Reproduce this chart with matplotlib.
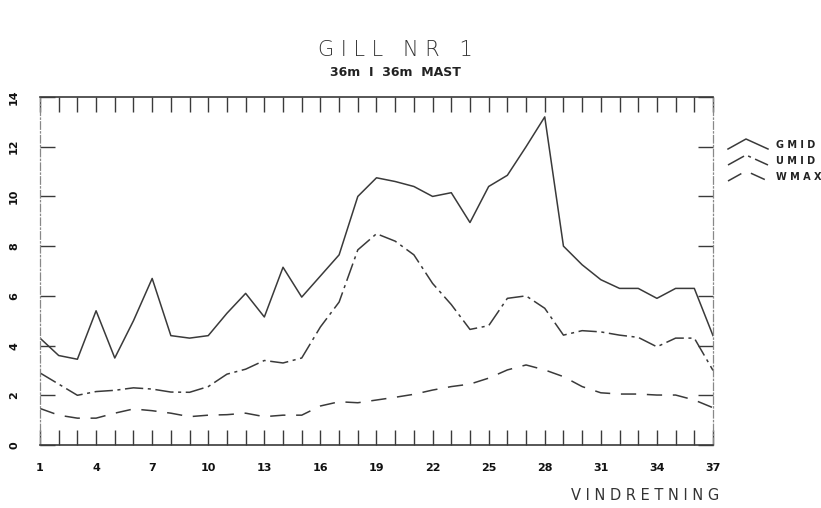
import numpy as np
import matplotlib
matplotlib.use("Agg")
import matplotlib.pyplot as plt
from matplotlib.lines import Line2D

# DATOS
retning = list(range(1, 38))
gmid = [4.3, 3.6, 3.45, 5.4, 3.5, 5.0, 6.7, 4.4, 4.3, 4.4, 5.3, 6.1, 5.15, 7.15, 5.95,
        6.8, 7.65, 10.0, 10.75, 10.6, 10.4, 10.0, 10.15, 8.95, 10.4, 10.85, 12.0, 13.2,
        8.0, 7.25, 6.65, 6.3, 6.3, 5.9, 6.3, 6.3, 4.4]
umid = [2.9, 2.45, 2.0, 2.15, 2.2, 2.3, 2.25, 2.13, 2.12, 2.35, 2.85, 3.05, 3.4, 3.3, 3.5,
        4.75, 5.75, 7.85, 8.5, 8.2, 7.65, 6.5, 5.65, 4.65, 4.8, 5.9, 6.0, 5.5,
        4.42, 4.6, 4.55, 4.42, 4.33, 3.95, 4.3, 4.3, 3.0]
wmax = [1.47, 1.2, 1.08, 1.08, 1.28, 1.45, 1.38, 1.28, 1.14, 1.2, 1.22, 1.28, 1.14, 1.2, 1.2,
        1.57, 1.74, 1.7, 1.81, 1.92, 2.04, 2.21, 2.35, 2.45, 2.69, 3.02, 3.22, 3.02,
        2.75, 2.35, 2.1, 2.05, 2.05, 2.01, 2.01, 1.81, 1.5]
navn = ["GMID", "UMID", "WMAX"]
x_etiketter = list(range(1, 38, 3))
y_etiketter = list(range(0, 15, 2))

farge = "#3a3a3a"
stiler = ["-", (0, (12, 3, 2, 3)), (0, (10, 7))]

fig = plt.figure(figsize=(8.21, 5.08), dpi=100)
ax = fig.add_axes([40 / 821, 1 - 445 / 508, 673 / 821, 348 / 508])

for serie, ls in zip([gmid, umid, wmax], stiler):
    ax.plot(retning, serie, color=farge, linewidth=1.1, linestyle=ls)

ax.set_xlim(1, 37)
ax.set_ylim(0, 14)

# ticks
ax.set_xticks(retning, minor=True)
ax.set_xticks(x_etiketter)
ax.set_xticklabels([str(v) for v in x_etiketter], fontsize=8, fontweight="bold", color="#111")
ax.tick_params(axis="x", which="both", direction="in", top=True, bottom=True,
               length=11, width=1, color=farge, pad=13)
ax.set_yticks(y_etiketter)
ax.set_yticklabels([str(v) for v in y_etiketter], fontsize=8, fontweight="bold",
                   rotation=90, va="center", color="#111")
ax.tick_params(axis="y", direction="in", left=True, right=True, length=11,
               width=1, color=farge, pad=15)

for s in ["top", "bottom"]:
    ax.spines[s].set_color(farge)
    ax.spines[s].set_linewidth(1.2)
for s in ["left", "right"]:
    ax.spines[s].set_color("#888")
    ax.spines[s].set_linewidth(0.9)
    ax.spines[s].set_linestyle((0, (6, 2, 1, 2)))

# titler
fig.text(395 / 821, 1 - 50 / 508, "G I L L   N R   1", ha="center", va="center",
         fontsize=15, color="#333", fontweight="light")
fig.text(395 / 821, 1 - 72 / 508, "36m  I  36m  MAST", ha="center", va="center",
         fontsize=9, color="#222", fontweight="bold")
fig.text(645 / 821, 1 - 496 / 508, "V I N D R E T N I N G", ha="center", va="center",
         fontsize=10.5, color="#333")

# legend (chevron-symboler)
for k, (n, ls) in enumerate(zip(navn, stiler)):
    yc = 1 - (142 + k * 16) / 508
    xs = np.array([728, 746, 768]) / 821
    ys = np.array([yc - 7 / 508, yc + 3 / 508, yc - 7 / 508])
    fig.add_artist(Line2D(xs, ys, color=farge, linewidth=1.1, linestyle=ls,
                          transform=fig.transFigure))
    fig.text(776 / 821, yc - 3 / 508, " ".join(n), ha="left", va="center",
             fontsize=7, fontweight="bold", color="#222")

fig.savefig("out.png", dpi=100)
